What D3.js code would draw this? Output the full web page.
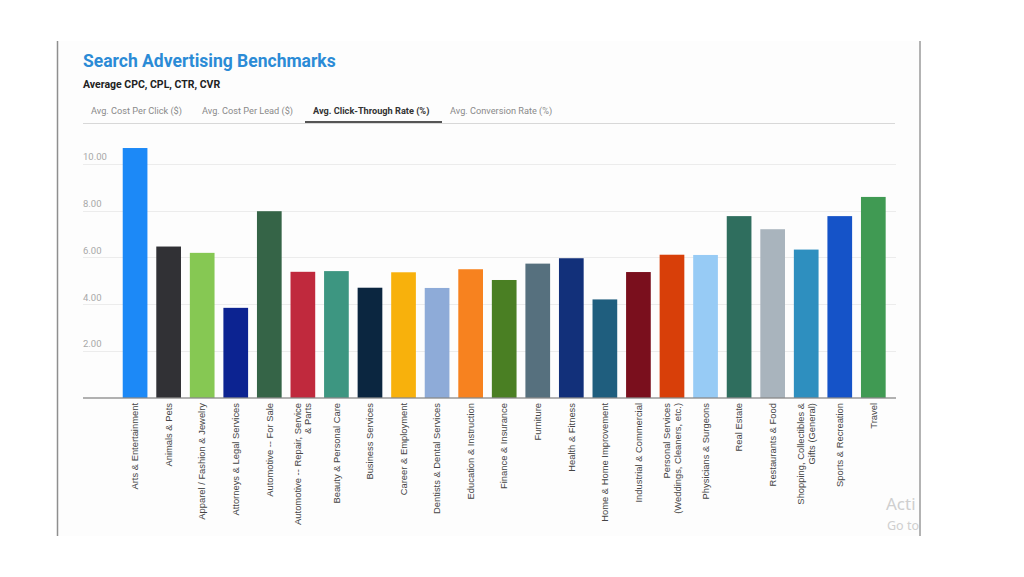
<!DOCTYPE html>
<html>
<head>
<meta charset="utf-8">
<script src="https://cdn.jsdelivr.net/npm/d3@7"></script>
<style>
  html, body { margin: 0; padding: 0; background: #ffffff; }
  svg { display: block; }
</style>
</head>
<body>
<svg id="chart" width="1024" height="577"></svg>
<script>
// ---- data ----
const categories = [
  ["Arts & Entertainment"],
  ["Animals & Pets"],
  ["Apparel / Fashion & Jewelry"],
  ["Attorneys & Legal Services"],
  ["Automotive -- For Sale"],
  ["Automotive -- Repair, Service", "& Parts"],
  ["Beauty & Personal Care"],
  ["Business Services"],
  ["Career & Employment"],
  ["Dentists & Dental Services"],
  ["Education & Instruction"],
  ["Finance & Insurance"],
  ["Furniture"],
  ["Health & Fitness"],
  ["Home & Home Improvement"],
  ["Industrial & Commercial"],
  ["Personal Services", "(Weddings, Cleaners, etc.)"],
  ["Physicians & Surgeons"],
  ["Real Estate"],
  ["Restaurants & Food"],
  ["Shopping, Collectibles &", "Gifts (General)"],
  ["Sports & Recreation"],
  ["Travel"]
];
const ctrValues = [10.67, 6.46, 6.19, 3.84, 7.97, 5.38, 5.41, 4.70, 5.36, 4.69, 5.49, 5.03, 5.73, 5.96, 4.20, 5.37, 6.11, 6.10, 7.76, 7.20, 6.33, 7.76, 8.58];
const barColors = ["#1c89f7", "#313135", "#86c853", "#0c2391", "#356447", "#c0293d", "#3d9681", "#0b2640", "#f8b10c", "#8eabd8", "#f7821f", "#4a7f23", "#56707e", "#12307a", "#1f5e7e", "#7a0f1d", "#d83f09", "#97cbf5", "#2f6e5e", "#a9b4bd", "#2e8fbf", "#1553c8", "#409a53"];
const yTicks = [2, 4, 6, 8, 10];
const tabLabels = ["Avg. Cost Per Click ($)", "Avg. Cost Per Lead ($)", "Avg. Click-Through Rate (%)", "Avg. Conversion Rate (%)"];
const activeTab = 2;
const titleText = "Search Advertising Benchmarks";
const subtitleText = "Average CPC, CPL, CTR, CVR";
const watermarkLines = ["Acti", "Go to"];

// ---- drawing ----
const svg = d3.select("#chart");
const keys = categories.map((c, i) => i);

// card frame
svg.append("rect").attr("x", 58).attr("y", 41).attr("width", 862).attr("height", 495).attr("fill", "#fdfdfd");
svg.append("line").attr("x1", 57.5).attr("x2", 57.5).attr("y1", 41).attr("y2", 536).attr("stroke", "#8f8f8f").attr("stroke-width", 1.5);
svg.append("line").attr("x1", 920).attr("x2", 920).attr("y1", 41).attr("y2", 536).attr("stroke", "#9a9a9a").attr("stroke-width", 1.5);

// title
svg.append("text").attr("x", 83).attr("y", 66.5).text(titleText)
  .attr("font-family", "Roboto, sans-serif").attr("font-weight", "bold").attr("font-size", 17.5).attr("fill", "#2b8bd6");
svg.append("text").attr("x", 83).attr("y", 87.5).text(subtitleText)
  .attr("font-family", "Roboto, sans-serif").attr("font-weight", "bold").attr("font-size", 10.5).attr("fill", "#222");

// tabs
const tabX = [91, 202, 313, 450];
svg.append("line").attr("x1", 83).attr("x2", 895).attr("y1", 123.5).attr("y2", 123.5).attr("stroke", "#d8d8d8").attr("stroke-width", 1);
tabLabels.forEach((t, i) => {
  svg.append("text").attr("x", tabX[i]).attr("y", 113.5).text(t)
    .attr("font-family", "Roboto, sans-serif").attr("font-size", 9.2)
    .attr("font-weight", i === activeTab ? "bold" : "normal")
    .attr("fill", i === activeTab ? "#333" : "#8a8a8a");
});
svg.append("line").attr("x1", 305).attr("x2", 442).attr("y1", 122).attr("y2", 122).attr("stroke", "#555").attr("stroke-width", 2);

// scales
const x = d3.scaleBand().domain(keys).range([118.3, 890.1]).paddingInner(0.264).paddingOuter(0.132);
const y = d3.scaleLinear().domain([0, 10]).range([397.7, 163.7]);

// gridlines + y labels
const grid = svg.append("g");
yTicks.forEach(v => {
  grid.append("line").attr("x1", 83).attr("x2", 896).attr("y1", Math.round(y(v)) + 0.5).attr("y2", Math.round(y(v)) + 0.5)
    .attr("stroke", "#ececec").attr("stroke-width", 1);
  grid.append("text").attr("x", 83).attr("y", y(v) - 3.5).text(d3.format(".2f")(v))
    .attr("font-family", "Roboto, sans-serif").attr("font-size", 9.5).attr("fill", "#a8a8a8");
});

// bars
svg.append("g").selectAll("rect").data(ctrValues).join("rect")
  .attr("x", (d, i) => x(i))
  .attr("width", x.bandwidth())
  .attr("y", d => y(d))
  .attr("height", d => y(0) - y(d))
  .attr("fill", (d, i) => barColors[i]);

// baseline axis
svg.append("line").attr("x1", 83).attr("x2", 896).attr("y1", 398).attr("y2", 398).attr("stroke", "#666").attr("stroke-width", 1.2);

// x labels (rotated)
const xl = svg.append("g");
categories.forEach((lines, i) => {
  const cx = x(i) + x.bandwidth() / 2;
  const n = lines.length;
  lines.forEach((ln, j) => {
    const off = (j - (n - 1) / 2) * 10.5;
    xl.append("text")
      .attr("transform", `translate(${cx + off},403) rotate(-90)`)
      .attr("text-anchor", "end").attr("dy", "0.35em")
      .attr("font-family", "'Liberation Sans', Arial, sans-serif").attr("font-size", 9.4)
      .attr("fill", "#444").text(ln);
  });
});

// watermark
svg.append("text").attr("x", 886).attr("y", 510).text(watermarkLines[0])
  .attr("font-family", "'Noto Sans', sans-serif").attr("font-size", 17).attr("fill", "#cfcfcf");
svg.append("text").attr("x", 887).attr("y", 530).text(watermarkLines[1])
  .attr("font-family", "'Noto Sans', sans-serif").attr("font-size", 12.5).attr("fill", "#cfcfcf");
</script>
</body>
</html>
